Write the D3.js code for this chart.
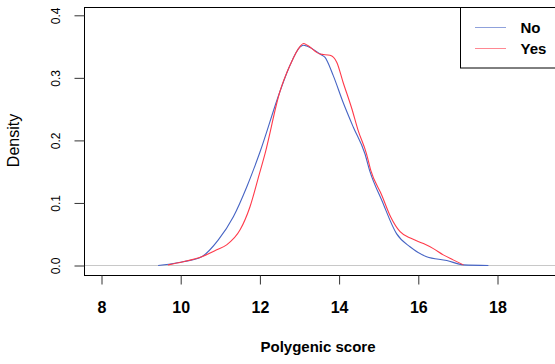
<!DOCTYPE html>
<html><head><meta charset="utf-8">
<script src="https://cdn.jsdelivr.net/npm/d3@7"></script>
<style>body{margin:0;background:#fff}svg{display:block}</style>
</head><body>
<svg id="c" width="555" height="364"></svg>
<script>
// Data
const seriesNames = ["No", "Yes"];
const seriesColors = ["#4664c4", "#ff3a4a"];
const noX = [9.43, 9.7, 10.06, 10.53, 10.95, 11.33, 11.67, 12.0, 12.5, 12.76, 13.01, 13.1, 13.18, 13.52, 13.64, 13.85, 14.1, 14.36, 14.65, 14.78, 15.08, 15.45, 15.79, 16.21, 16.72, 17.14, 17.77];
const noY = [0.000, 0.002, 0.006, 0.014, 0.041, 0.078, 0.126, 0.181, 0.277, 0.320, 0.349, 0.352, 0.351, 0.338, 0.333, 0.304, 0.261, 0.221, 0.179, 0.150, 0.104, 0.051, 0.030, 0.014, 0.008, 0.001, 0.000];
const yesX = [9.68, 10.06, 10.53, 10.91, 11.16, 11.5, 11.75, 11.98, 12.13, 12.5, 12.76, 13.01, 13.1, 13.2, 13.52, 13.77, 13.94, 14.1, 14.32, 14.48, 14.69, 14.8, 15.08, 15.3, 15.54, 15.83, 16.13, 16.38, 16.63, 16.88, 17.14];
const yesY = [0.001, 0.006, 0.014, 0.025, 0.033, 0.057, 0.094, 0.145, 0.179, 0.277, 0.320, 0.350, 0.355, 0.352, 0.338, 0.336, 0.325, 0.293, 0.251, 0.216, 0.179, 0.152, 0.112, 0.078, 0.054, 0.043, 0.035, 0.027, 0.017, 0.009, 0.001];
const xTicks = [8, 10, 12, 14, 16, 18];
const yTicks = [0.0, 0.1, 0.2, 0.3, 0.4];
const xTitle = "Polygenic score";
const yTitle = "Density";

const svg = d3.select("#c");
const x = d3.scaleLinear().domain([8, 18]).range([101.5, 497.5]);
const y = d3.scaleLinear().domain([0, 0.4]).range([265.5, 15.3]);

const boxL = 84.5, boxT = 7.5, boxB = 275.5, boxR = 600;
const font = "Liberation Sans, Arial, sans-serif";

// zero reference line
svg.append("line").attr("x1", boxL).attr("x2", 555).attr("y1", y(0)).attr("y2", y(0))
  .attr("stroke", "#c8c8c8").attr("stroke-width", 1);

// density lines
const line = d3.line().x(d => x(d[0])).y(d => y(d[1])).curve(d3.curveMonotoneX);
const series = [d3.zip(noX, noY), d3.zip(yesX, yesY)];
series.forEach((s, i) => {
  svg.append("path").datum(s).attr("d", line).attr("fill", "none")
    .attr("stroke", seriesColors[i]).attr("stroke-width", 1.1);
});

// plot box
svg.append("rect").attr("x", boxL).attr("y", boxT).attr("width", boxR - boxL).attr("height", boxB - boxT)
  .attr("fill", "none").attr("stroke", "#000").attr("stroke-width", 1);

// x axis
const xa = svg.append("g").attr("transform", `translate(0,${boxB})`)
  .call(d3.axisBottom(x).tickValues(xTicks).tickSize(9).tickFormat(d3.format("d")));
xa.select(".domain").remove();
xa.selectAll(".tick line").attr("stroke", "#333");
xa.selectAll(".tick text").attr("y", 37).attr("dy", null)
  .attr("font-family", font).attr("font-size", 16).attr("font-weight", "bold").attr("fill", "#000");

// y axis
const ya = svg.append("g").attr("transform", `translate(${boxL},0)`)
  .call(d3.axisLeft(y).tickValues(yTicks).tickSize(10).tickFormat(d3.format(".1f")));
ya.select(".domain").remove();
ya.selectAll(".tick line").attr("stroke", "#333");
ya.selectAll(".tick text").attr("x", null).attr("dy", null)
  .attr("text-anchor", "middle")
  .attr("transform", "translate(-25,0) rotate(-90)")
  .attr("font-family", font).attr("font-size", 12).attr("fill", "#000");

// titles
svg.append("text").attr("x", 318).attr("y", 352).attr("text-anchor", "middle")
  .attr("font-family", font).attr("font-size", 15).attr("font-weight", "bold").text(xTitle);
svg.append("text").attr("transform", "translate(19,140.5) rotate(-90)").attr("text-anchor", "middle")
  .attr("font-family", font).attr("font-size", 16).text(yTitle);

// legend
svg.append("rect").attr("x", 460.5).attr("y", boxT).attr("width", 200).attr("height", 68 - boxT)
  .attr("fill", "#fff").attr("stroke", "#000").attr("stroke-width", 1);
seriesNames.forEach((n, i) => {
  const ly = 27.5 + i * 21;
  svg.append("line").attr("x1", 475).attr("x2", 506).attr("y1", ly).attr("y2", ly)
    .attr("stroke", seriesColors[i]).attr("stroke-width", 1).attr("opacity", 0.6);
  svg.append("text").attr("x", 520.5).attr("y", ly + 5.5)
    .attr("font-family", font).attr("font-size", 15).attr("font-weight", "bold").text(n);
});
</script>
</body></html>
